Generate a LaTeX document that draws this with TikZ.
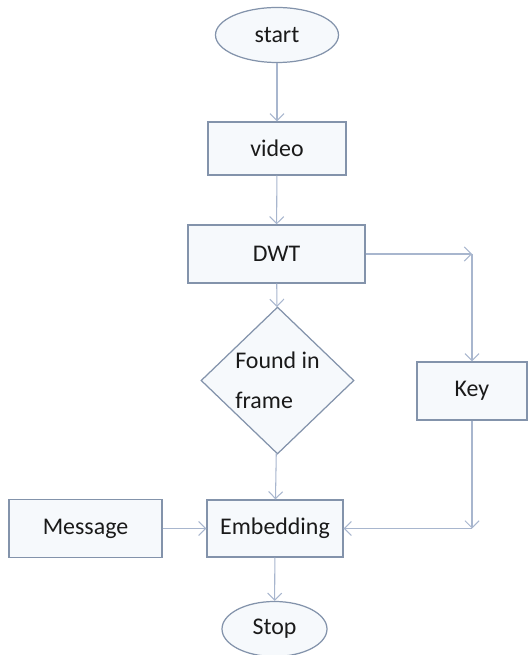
\documentclass[tikz,border=0pt]{standalone}
\usepackage{fontspec}
\setmainfont{Carlito}
\usepackage{xcolor}
\usepackage{tikz}
\usetikzlibrary{arrows.meta,positioning,shapes}

\definecolor{edgegray}{HTML}{8393AB}
\definecolor{boxfill}{HTML}{F6F9FC}
\definecolor{linkblue}{HTML}{A8B6CE}
\definecolor{inkgray}{HTML}{1A1A1A}

\begin{document}
\begin{tikzpicture}[font=\fontsize{13.6}{16}\selectfont,
                        block/.style={draw=edgegray, fill=boxfill, line width=0.75pt, rectangle, text centered, text=inkgray, inner sep=0pt},
                        term/.style={draw=edgegray, fill=boxfill, line width=0.7pt, ellipse, text centered, text=inkgray, inner sep=0pt},
                        test/.style={draw=edgegray, fill=boxfill, line width=0.7pt, diamond, align=left, text=inkgray, inner sep=0pt},
                        link/.style={draw=linkblue, line width=0.6pt, -{Straight Barb[length=4pt,width=8pt]}}]
                        \useasboundingbox (0, 0) rectangle (10.56, 13.1);
                        \node[term, minimum width=2.46cm, minimum height=1.1cm] (start) at (5.54, 12.4) {start};
                        \node[block, minimum width=2.76cm, minimum height=1.06cm] (video) at (5.54, 10.13) {video};
                        \node[block, minimum width=3.54cm, minimum height=1.16cm] (dwt) at (5.53, 8.02) {DWT};
                        \node[test, minimum width=3.06cm, minimum height=2.94cm, font=\fontsize{13.6}{23}\selectfont] (found) at (5.55, 5.49) {Found in\\frame};
                        \node[block, minimum width=2.2cm, minimum height=1.16cm] (key) at (9.44, 5.28) {Key};
                        \node[block, minimum width=2.72cm, minimum height=1.14cm] (embed) at (5.5, 2.53) {Embedding};
                        \node[block, minimum width=3.06cm, minimum height=1.16cm] (message) at (1.71, 2.53) {Message};
                        \node[term, minimum width=2.1cm, minimum height=1.1cm] (stop) at (5.49, 0.52) {Stop};
                        \coordinate (turnkey) at (key.north |- dwt.east);
                        \coordinate (turnembed) at (key.south |- embed.east);
                        \draw [link] (start) -- (video);
                        \draw [link] (video) -- (dwt);
                        \draw [link] (dwt) -- (found);
                        \draw [link] (dwt) -- (turnkey);
                        \draw [link] (turnkey) -- (key);
                        \draw [link] (found) -- (embed);
                        \draw [link] (message) -- (embed);
                        \draw [link] (key) -- (turnembed);
                        \draw [link] (turnembed) -- (embed);
                        \draw [link] (embed) -- (stop);
                        \end{tikzpicture}
\end{document}
